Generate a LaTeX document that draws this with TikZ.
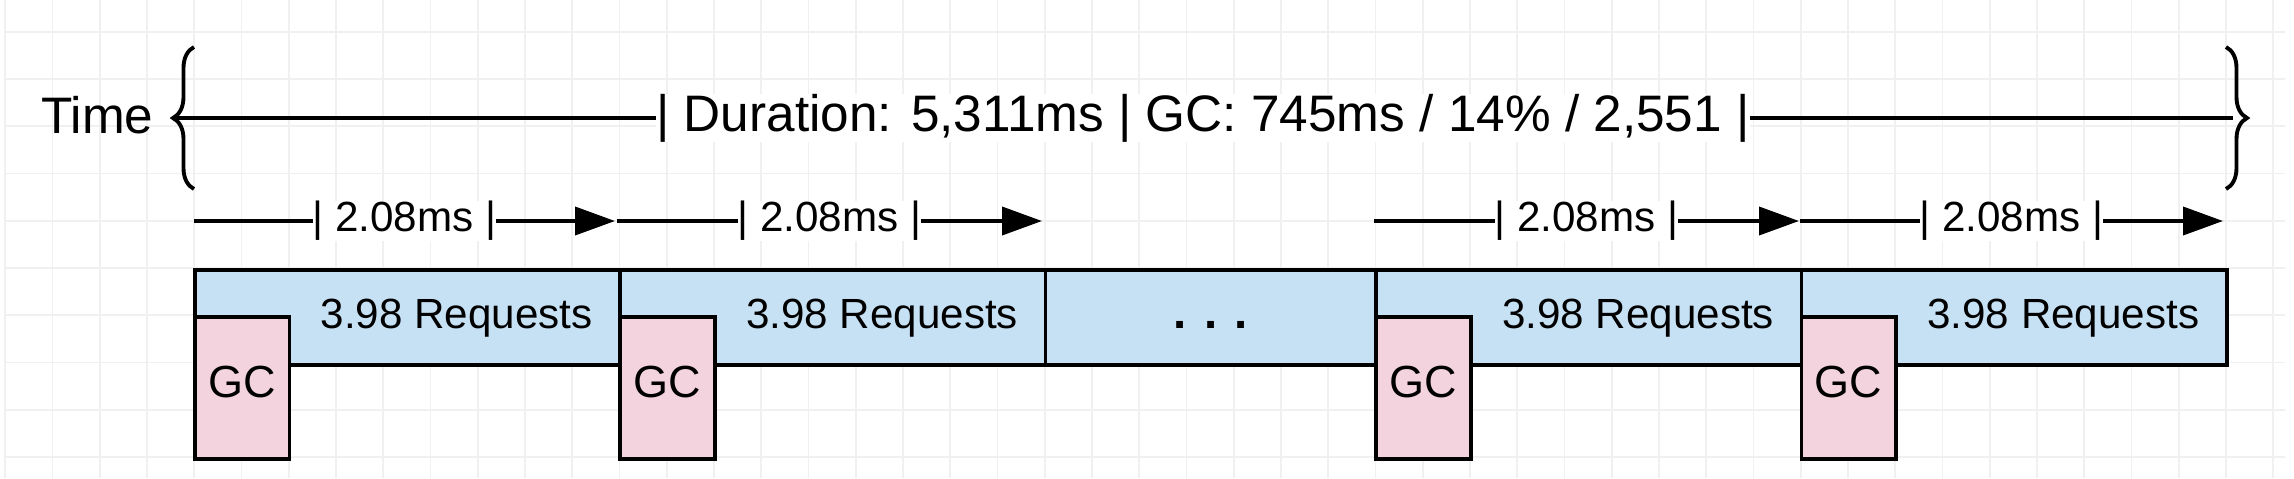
\documentclass[tikz,border=0pt]{standalone}
\usepackage{fontspec}
\setmainfont{Liberation Sans}
\usetikzlibrary{arrows.meta,decorations.pathreplacing,calc,positioning}
\definecolor{reqblue}{RGB}{199,225,244}
\definecolor{gcpink}{RGB}{242,211,222}

\begin{document}
\begin{tikzpicture}[
    gridline/.style={black!6,line width=.5pt},
    curly/.style={line width=1.1pt,decorate,decoration={brace,amplitude=.21cm}},
    span/.style={line width=1.1pt,-{Triangle[length=.4cm,width=.28cm]}},
    biglbl/.style={inner sep=0pt,font=\fontsize{14.6}{17}\selectfont},
    spanlbl/.style={fill=white,inner sep=0pt,font=\fontsize{12}{14}\selectfont},
    reqbox/.style={draw,line width=1.1pt,fill=reqblue,minimum height=.95cm,anchor=north west,inner sep=0pt},
    gcbox/.style={draw,line width=1.1pt,fill=gcpink,minimum width=.945cm,minimum height=1.42cm,
        anchor=north west,inner sep=0pt,font=\fontsize{12.8}{15}\selectfont,text height=9.2pt,text depth=3.5pt},
    reqtext/.style={inner sep=0pt,font=\fontsize{12}{14}\selectfont,text height=8.6pt,text depth=2.5pt}]
    \useasboundingbox (0,0) rectangle (22.94,4.78);
    % background grid
    \foreach \i in {0,...,48}
        \draw[gridline] (0.053+\i*0.4725,0) -- (0.053+\i*0.4725,4.78);
    \foreach \j in {0,...,9}
        \draw[gridline] (0.053,4.463-\j*0.4725) -- (22.85,4.463-\j*0.4725);
    % total time
    \draw[curly] (1.94,2.89) -- (1.94,4.31);
    \draw[curly] (22.26,4.31) -- (22.26,2.89);
    \coordinate (ltip) at (1.73,3.60);
    \coordinate (rend) at (22.33,3.60);
    \node[biglbl,left=.19cm of ltip,yshift=.03cm] (time) {Time};
    \draw[line width=1.1pt] (ltip) -- node[biglbl,fill=white] (dur)
        {| Duration: 5,311ms | GC: 745ms / 14\% / 2,551 |} (rend);
    % one interval per request batch
    \foreach \n/\a/\b in {1/1.94/6.15, 2/6.17/10.42, 3/13.74/17.99, 4/18.00/22.23} {
        \coordinate (s\n) at (\a,2.57);
        \coordinate (e\n) at (\b,2.57);
        \draw[span] (s\n) -- node[spanlbl] (d\n) {| 2.08ms |} (e\n);
    }
    \foreach \n/\x/\w in {1/1.93/4.2525, 2/6.1825/4.2525, 3/10.435/3.3075, 4/13.7425/4.2525, 5/17.995/4.2525}
        \node[reqbox,minimum width=\w cm] (r\n) at (\x,2.10) {};
    \foreach \n in {1,2,4,5} {
        \node[gcbox] (g\n) at ([yshift=-.47cm]r\n.north west) {GC};
        \node[reqtext] (t\n) at ($(g\n.east |- r\n.center)!.5!(r\n.east)$) {3.98 Requests};
    }
    \node[reqtext,font=\fontsize{13.5}{15}\selectfont\bfseries] (dots) at (r3) {. . .};
\end{tikzpicture}
\end{document}
